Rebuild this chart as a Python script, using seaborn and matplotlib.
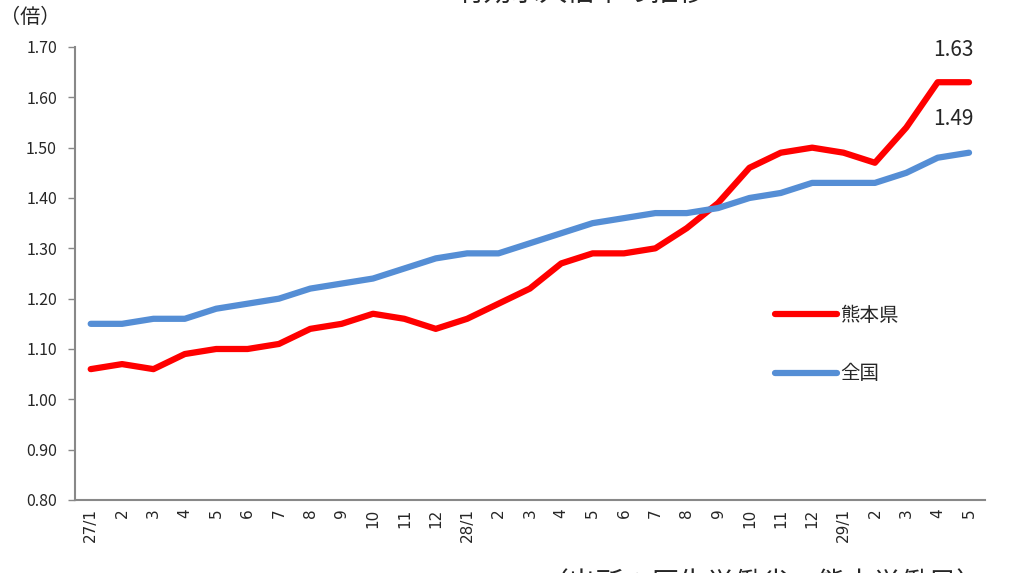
import pandas as pd
import matplotlib.pyplot as plt
import seaborn as sns

# data (monthly, H27/1 - H29/5)
months = ['27/1', '2', '3', '4', '5', '6', '7', '8', '9', '10', '11', '12',
          '28/1', '2', '3', '4', '5', '6', '7', '8', '9', '10', '11', '12',
          '29/1', '2', '3', '4', '5']
kumamoto = [1.06, 1.07, 1.06, 1.09, 1.10, 1.10, 1.11, 1.14, 1.15, 1.17, 1.16, 1.14,
            1.16, 1.19, 1.22, 1.27, 1.29, 1.29, 1.30, 1.34, 1.39, 1.46, 1.49, 1.50,
            1.49, 1.47, 1.54, 1.63, 1.63]
zenkoku = [1.15, 1.15, 1.16, 1.16, 1.18, 1.19, 1.20, 1.22, 1.23, 1.24, 1.26, 1.28,
           1.29, 1.29, 1.31, 1.33, 1.35, 1.36, 1.37, 1.37, 1.38, 1.40, 1.41, 1.43,
           1.43, 1.43, 1.45, 1.48, 1.49]
series_names = ['熊本県', '全国']
colors = ['#FF0000', '#558ED5']

idx = list(range(len(months)))
df = pd.DataFrame({
    'pos': idx * 2,
    'value': kumamoto + zenkoku,
    'series': [series_names[0]] * len(idx) + [series_names[1]] * len(idx),
})

sns.set_style('white')
plt.rcParams['font.family'] = ['Noto Sans CJK JP', 'DejaVu Sans']

fig = plt.figure(figsize=(10.11, 5.73), dpi=100)
ax = fig.add_axes([0.0742, 0.1274, 0.8998, 0.7906])

sns.lineplot(data=df, x='pos', y='value', hue='series', palette=colors,
             linewidth=4.5, solid_capstyle='round', ax=ax)

ax.set_xlim(-0.5, len(months) - 0.5)
ax.set_ylim(0.80, 1.70)
ax.set_yticks([0.80 + 0.1 * i for i in range(10)])
ax.set_yticklabels([f'{0.80 + 0.1 * i:.2f}' for i in range(10)], fontsize=11.5)
ax.set_xticks(idx)
ax.set_xticklabels(months, rotation=90, fontsize=11, family='DejaVu Sans')
ax.set_xticks([i - 0.5 for i in range(len(months) + 1)], minor=True)
ax.tick_params(axis='x', which='major', length=0, pad=6)
ax.tick_params(axis='x', which='minor', length=5, color='#888888', width=1)
ax.tick_params(axis='y', length=5, color='#888888', width=1, left=True, pad=8)
ax.set_xlabel('')
ax.set_ylabel('')

for s in ['top', 'right']:
    ax.spines[s].set_visible(False)
for s in ['left', 'bottom']:
    ax.spines[s].set_color('#888888')
    ax.spines[s].set_linewidth(1.5)

# end value labels
ax.annotate(f'{kumamoto[-1]:.2f}', (idx[-1], kumamoto[-1]), xytext=(-11, 23),
            textcoords='offset points', ha='center', va='center', fontsize=15)
ax.annotate(f'{zenkoku[-1]:.2f}', (idx[-1], zenkoku[-1]), xytext=(-11, 24),
            textcoords='offset points', ha='center', va='center', fontsize=15)

leg = ax.legend(loc='upper left', bbox_to_anchor=(0.75, 0.47), frameon=False,
                fontsize=14, handlelength=3.2, handletextpad=0.15, labelspacing=1.95)
for h in leg.get_lines():
    h.set_linewidth(4.5)
    h.set_solid_capstyle('round')

fig.text(0.0, 0.970, '（倍）', fontsize=14.5, ha='left', va='center')
fig.text(0.575, 0.986, '有効求人倍率の推移', fontsize=20, ha='center', va='bottom')
fig.text(0.535, 0.007, '（出所：厚生労働省、熊本労働局）', fontsize=20, ha='left', va='top')

fig.savefig('out.png', dpi=100)
